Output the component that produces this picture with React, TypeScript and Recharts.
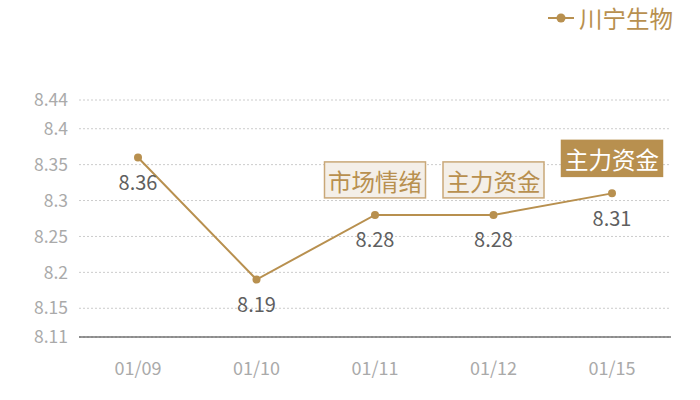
import React from 'react';
import { LineChart, Line, XAxis, YAxis, CartesianGrid, LabelList, Legend } from 'recharts';

const dates = ['01/09', '01/10', '01/11', '01/12', '01/15'];
const prices = [8.36, 8.19, 8.28, 8.28, 8.31];
const tags = ['', '', '市场情绪', '主力资金', '主力资金'];
const tagFilled = [false, false, false, false, true];
const yTicks = [8.11, 8.15, 8.2, 8.25, 8.3, 8.35, 8.4, 8.44];
const seriesName = '川宁生物';

const GOLD = '#b8904f';
const FONT = '"Noto Sans CJK SC", "Noto Sans", sans-serif';

const data = dates.map((d, i) => ({ date: d, price: prices[i], tag: tags[i], filled: tagFilled[i] }));

const ValueLabel = (props: any) => {
  const { x, y, value } = props;
  return (
    <text x={x} y={y + 24} textAnchor="middle" dominantBaseline="central" fill="#5f5f5f" fontSize={20} fontFamily={FONT}>
      {value}
    </text>
  );
};

const TagLabel = (props: any) => {
  const { x, y, index } = props;
  const t = tags[index];
  if (!t) return null;
  const filled = tagFilled[index];
  const w = 101;
  const h = 36;
  const bx = x - w / 2;
  const by = y - 17 - h;
  return (
    <g>
      <rect x={bx} y={by} width={w} height={h} fill={filled ? GOLD : '#f4efe8'} stroke={filled ? GOLD : '#c9a878'} strokeWidth={1.5} />
      <text x={x} y={by + h / 2 + 1} textAnchor="middle" dominantBaseline="central" fill={filled ? '#fff' : GOLD} fontSize={23.5} fontFamily={FONT}>
        {t}
      </text>
    </g>
  );
};

const LegendContent = () => (
  <div style={{ display: 'flex', alignItems: 'center', fontFamily: FONT, color: GOLD, fontSize: 23.5, lineHeight: '30px' }}>
    <svg width={26} height={12} style={{ marginRight: 5 }}>
      <line x1={0} y1={6} x2={26} y2={6} stroke={GOLD} strokeWidth={2} />
      <circle cx={13} cy={6} r={4.5} fill={GOLD} />
    </svg>
    <span>{seriesName}</span>
  </div>
);

export default function App() {
  return (
    <div style={{ position: 'absolute', left: 0, top: 0, width: 700, height: 400, background: '#fff' }}>
      <LineChart width={700} height={400} data={data} margin={{ top: 70, right: 29, bottom: 0, left: 0 }}>
        <CartesianGrid vertical={false} stroke="#cccccc" strokeDasharray="2 2" />
        <XAxis
          dataKey="date"
          height={63}
          padding={{ left: 59, right: 59 }}
          axisLine={{ stroke: '#333', strokeWidth: 1.2 }}
          tickLine={false}
          tickMargin={19}
          tick={{ fill: '#aaa', fontSize: 18, fontFamily: FONT }}
        />
        <YAxis
          width={79}
          domain={[8.11, 8.44]}
          ticks={yTicks}
          axisLine={false}
          tickLine={false}
          tickMargin={5}
          interval={0}
          tick={{ fill: '#aaa', fontSize: 17.5, fontFamily: FONT }}
        />
        <Legend
          verticalAlign="top"
          align="right"
          content={<LegendContent />}
          wrapperStyle={{ top: 3, right: 27, left: 'auto', width: 'auto', height: 30 }}
        />
        <Line
          type="linear"
          dataKey="price"
          name={seriesName}
          stroke={GOLD}
          strokeWidth={2}
          dot={{ r: 4, fill: GOLD, stroke: 'none' }}
          activeDot={false}
          isAnimationActive={false}
        >
          <LabelList dataKey="price" content={<ValueLabel />} />
          <LabelList dataKey="tag" content={<TagLabel />} />
        </Line>
      </LineChart>
    </div>
  );
}
